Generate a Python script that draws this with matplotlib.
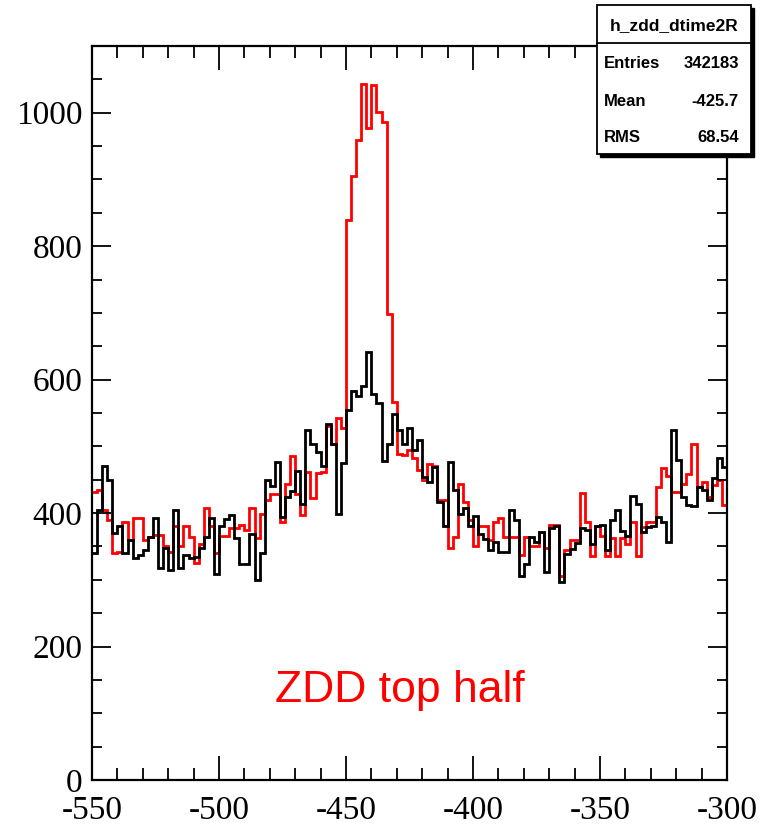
import numpy as np
import matplotlib
matplotlib.use("Agg")
import matplotlib.pyplot as plt
from matplotlib.patches import Rectangle
from matplotlib.lines import Line2D
from matplotlib.ticker import MultipleLocator

# ---- data ----
x_min, x_max, n_bins = -550, -300, 125

red_counts = [
    432, 435, 405, 390, 340, 342, 387, 359, 392, 392,
    359, 364, 367, 367, 350, 342, 380, 350, 380, 364,
    325, 353, 407, 380, 340, 365, 365, 377, 377, 382,
    375, 407, 362, 398, 419, 429, 429, 387, 443, 486,
    429, 397, 462, 422, 460, 462, 531, 504, 542, 528,
    839, 905, 959, 1043, 977, 1041, 1001, 986, 698, 567,
    488, 487, 494, 482, 464, 450, 473, 471, 419, 419,
    347, 364, 444, 417, 390, 350, 380, 380, 360, 387,
    392, 364, 364, 364, 337, 364, 350, 350, 372, 347,
    382, 382, 305, 344, 359, 359, 430, 387, 335, 380,
    366, 335, 363, 335, 363, 353, 387, 335, 379, 387,
    387, 439, 467, 455, 432, 432, 444, 458, 503, 439,
    447, 424, 442, 449, 412,
]

black_counts = [
    340, 405, 470, 450, 370, 380, 340, 360, 332, 337,
    345, 364, 392, 317, 347, 314, 404, 317, 337, 332,
    334, 347, 364, 392, 308, 380, 391, 397, 362, 323,
    323, 368, 300, 340, 450, 441, 476, 394, 424, 433,
    463, 413, 524, 503, 491, 471, 533, 503, 399, 475,
    554, 583, 575, 590, 641, 578, 565, 478, 503, 548,
    524, 503, 527, 494, 509, 454, 447, 469, 417, 380,
    476, 434, 399, 407, 380, 395, 368, 361, 345, 357,
    342, 341, 404, 389, 305, 323, 364, 357, 372, 312,
    377, 380, 297, 339, 346, 355, 378, 375, 354, 380,
    382, 345, 389, 404, 373, 365, 425, 413, 372, 379,
    380, 394, 387, 356, 524, 479, 424, 412, 410, 439,
    435, 419, 452, 482, 469,
]

x_ticks = [-550, -500, -450, -400, -350, -300]
y_ticks = [0, 200, 400, 600, 800, 1000]
y_max = 1100

stats_title = "h_zdd_dtime2R"
stats_labels = ["Entries", "Mean", "RMS"]
stats_values = ["342183", "-425.7", "68.54"]
annotation = "ZDD top half"

# ---- figure ----
W, H = 763, 827
fig = plt.figure(figsize=(W / 100, H / 100), dpi=100)
fig.patch.set_facecolor("white")

L, R, T, B = 92, 727, 46, 780
ax = fig.add_axes([L / W, 1 - B / H, (R - L) / W, (B - T) / H])

edges = np.linspace(x_min, x_max, n_bins + 1)
ax.stairs(red_counts, edges, baseline=None, color="#ff0000", linewidth=2.0)
ax.stairs(black_counts, edges, baseline=None, color="black", linewidth=2.0)

ax.set_xlim(x_min, x_max)
ax.set_ylim(0, y_max)

ax.xaxis.set_minor_locator(MultipleLocator(10))
ax.yaxis.set_minor_locator(MultipleLocator(50))
ax.set_xticks(x_ticks)
ax.set_yticks(y_ticks)
ax.set_xticklabels([str(v) for v in x_ticks])
ax.set_yticklabels([str(v) for v in y_ticks])

ax.tick_params(which="both", direction="in", top=True, right=True,
               width=1.3, color="black")
ax.tick_params(axis="x", which="major", length=17, pad=11)
ax.tick_params(axis="x", which="minor", length=8.5)
ax.tick_params(axis="y", which="major", length=14, pad=7)
ax.tick_params(axis="y", which="minor", length=7)

for lab in ax.get_xticklabels():
    lab.set_fontfamily("Liberation Serif")
    lab.set_fontsize(24)
for lab in ax.get_yticklabels():
    lab.set_fontfamily("Liberation Serif")
    lab.set_fontsize(24)

for s in ax.spines.values():
    s.set_linewidth(1.6)
    s.set_color("black")

ax.text(0.485, 0.1226, annotation, transform=ax.transAxes,
        color="#ff0000", fontsize=32, family="Liberation Sans",
        ha="center", va="center")

# ---- stats box (figure pixel coordinates) ----
def fx(px):
    return px / W

def fy(py):
    return 1 - py / H

bx0, bx1, by0, by1 = 597, 751, 5, 154
shadow = Rectangle((fx(bx0 + 3), fy(by1 + 3)), fx(bx1 - bx0), (by1 - by0) / H,
                   transform=fig.transFigure, facecolor="black",
                   edgecolor="black", linewidth=1.0, zorder=10)
box = Rectangle((fx(bx0), fy(by1)), fx(bx1 - bx0), (by1 - by0) / H,
                transform=fig.transFigure, facecolor="white",
                edgecolor="black", linewidth=1.3, zorder=11)
fig.add_artist(shadow)
fig.add_artist(box)
fig.add_artist(Line2D([fx(bx0), fx(bx1)], [fy(43), fy(43)],
                      transform=fig.transFigure, color="black",
                      linewidth=1.3, zorder=12))

fig.text(fx((bx0 + bx1) / 2), fy(26), stats_title, ha="center", va="center",
         fontsize=12.5, fontweight="bold", family="Liberation Sans", zorder=13)
rows_y = [63, 101, 137]
for lab, val, yy in zip(stats_labels, stats_values, rows_y):
    fig.text(fx(604), fy(yy), lab, ha="left", va="center", fontweight="bold",
             fontsize=12, family="Liberation Sans", zorder=13)
    fig.text(fx(739), fy(yy), val, ha="right", va="center", fontweight="bold",
             fontsize=12, family="Liberation Sans", zorder=13)

fig.savefig("out.png", dpi=100, facecolor="white")
